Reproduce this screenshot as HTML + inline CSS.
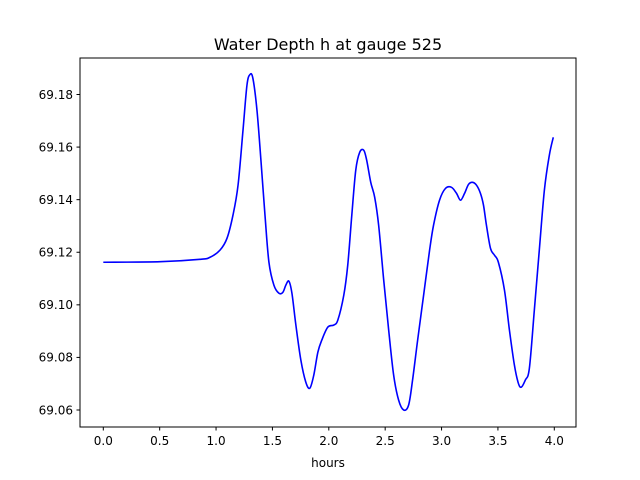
<!DOCTYPE html>
<html><head><meta charset="utf-8"><style>
body{margin:0;background:#fff;}
svg{display:block;font-family:"DejaVu Sans","Liberation Sans",sans-serif;}
</style></head><body>
<svg id="chart" width="640" height="480" viewBox="0 0 640 480" xmlns="http://www.w3.org/2000/svg">
<rect x="0" y="0" width="640" height="480" fill="#fff"/>
<text x="328" y="50" font-size="16" text-anchor="middle">Water Depth h at gauge 525</text>
<g id="xt"></g>
<g id="yt"></g>
<path id="line" fill="none" stroke="#0000ff" stroke-width="1.6"/>
<rect x="80" y="58" width="496" height="369" fill="none" stroke="#000" stroke-width="1"/>
<text x="328" y="467" font-size="12" text-anchor="middle">hours</text>
</svg>
<script>
const hours=[0,0.504,0.858,0.947,1.035,1.097,1.150,1.195,1.239,1.274,1.301,1.327,1.363,1.398,1.434,1.469,1.513,1.558,1.593,1.619,1.646,1.673,1.708,1.752,1.796,1.832,1.867,1.903,1.938,1.991,2.044,2.080,2.133,2.168,2.204,2.239,2.274,2.310,2.336,2.372,2.407,2.442,2.487,2.531,2.575,2.619,2.664,2.708,2.743,2.788,2.841,2.894,2.929,2.982,3.035,3.088,3.133,3.168,3.204,3.239,3.274,3.310,3.345,3.372,3.398,3.434,3.469,3.504,3.558,3.602,3.646,3.681,3.708,3.743,3.779,3.823,3.867,3.912,3.956,3.991];
const depth=[69.1162,69.1164,69.1173,69.1181,69.1208,69.1253,69.1341,69.1455,69.1664,69.1835,69.1876,69.1861,69.1740,69.1550,69.1341,69.1162,69.1075,69.1044,69.1048,69.1075,69.1090,69.1044,69.0923,69.0790,69.0706,69.0683,69.0733,69.0820,69.0866,69.0915,69.0923,69.0942,69.1037,69.1151,69.1341,69.1512,69.1580,69.1588,69.1550,69.1466,69.1409,69.1303,69.1094,69.0904,69.0733,69.0638,69.0600,69.0619,69.0714,69.0866,69.1037,69.1208,69.1303,69.1398,69.1443,69.1447,69.1424,69.1398,69.1424,69.1458,69.1466,69.1455,69.1424,69.1379,69.1303,69.1215,69.1189,69.1162,69.1056,69.0904,69.0771,69.0702,69.0687,69.0714,69.0759,69.0980,69.1208,69.1436,69.1569,69.1637];
const xTicks=[0,0.5,1,1.5,2,2.5,3,3.5,4];
const xTickLabels=["0.0","0.5","1.0","1.5","2.0","2.5","3.0","3.5","4.0"];
const yTicks=[69.06,69.08,69.10,69.12,69.14,69.16,69.18];
const yTickLabels=["69.06","69.08","69.10","69.12","69.14","69.16","69.18"];
const NS="http://www.w3.org/2000/svg";
function xs(t){return 103.3+t*112.75;}
function ys(v){return 410-(v-69.06)/0.12*315.5;}
const xg=document.getElementById('xt'),yg=document.getElementById('yt');
function mk(tag,attrs,parent){const e=document.createElementNS(NS,tag);for(const k in attrs)e.setAttribute(k,attrs[k]);parent.appendChild(e);return e;}
xTicks.forEach((t,i)=>{const x=xs(t);
 const l=mk('line',{x1:x,x2:x,y1:427,y2:430.5,stroke:'#000'},xg);
 
 
 const tx=mk('text',{x:x,y:445,'font-size':12,'text-anchor':'middle'},xg);tx.textContent=xTickLabels[i];
 
 
});
yTicks.forEach((v,i)=>{const y=ys(v);
 const l=mk('line',{x1:76.5,x2:80,y1:y,y2:y,stroke:'#000'},yg);
 
 
 const tx=mk('text',{x:73,y:y+4.3,'font-size':12,'text-anchor':'end'},yg);tx.textContent=yTickLabels[i];
 
 
});
const P=hours.map((h,i)=>[xs(h),ys(depth[i])]);
let d='M'+P[0][0]+','+P[0][1];
for(let i=0;i<P.length-1;i++){const p0=P[Math.max(0,i-1)],p1=P[i],p2=P[i+1],p3=P[Math.min(P.length-1,i+2)];
 const c1=[p1[0]+(p2[0]-p0[0])/6,p1[1]+(p2[1]-p0[1])/6],c2=[p2[0]-(p3[0]-p1[0])/6,p2[1]-(p3[1]-p1[1])/6];
 d+=' C'+c1[0]+','+c1[1]+' '+c2[0]+','+c2[1]+' '+p2[0]+','+p2[1];}
document.getElementById('line').setAttribute('d',d);
</script>
</body></html>
